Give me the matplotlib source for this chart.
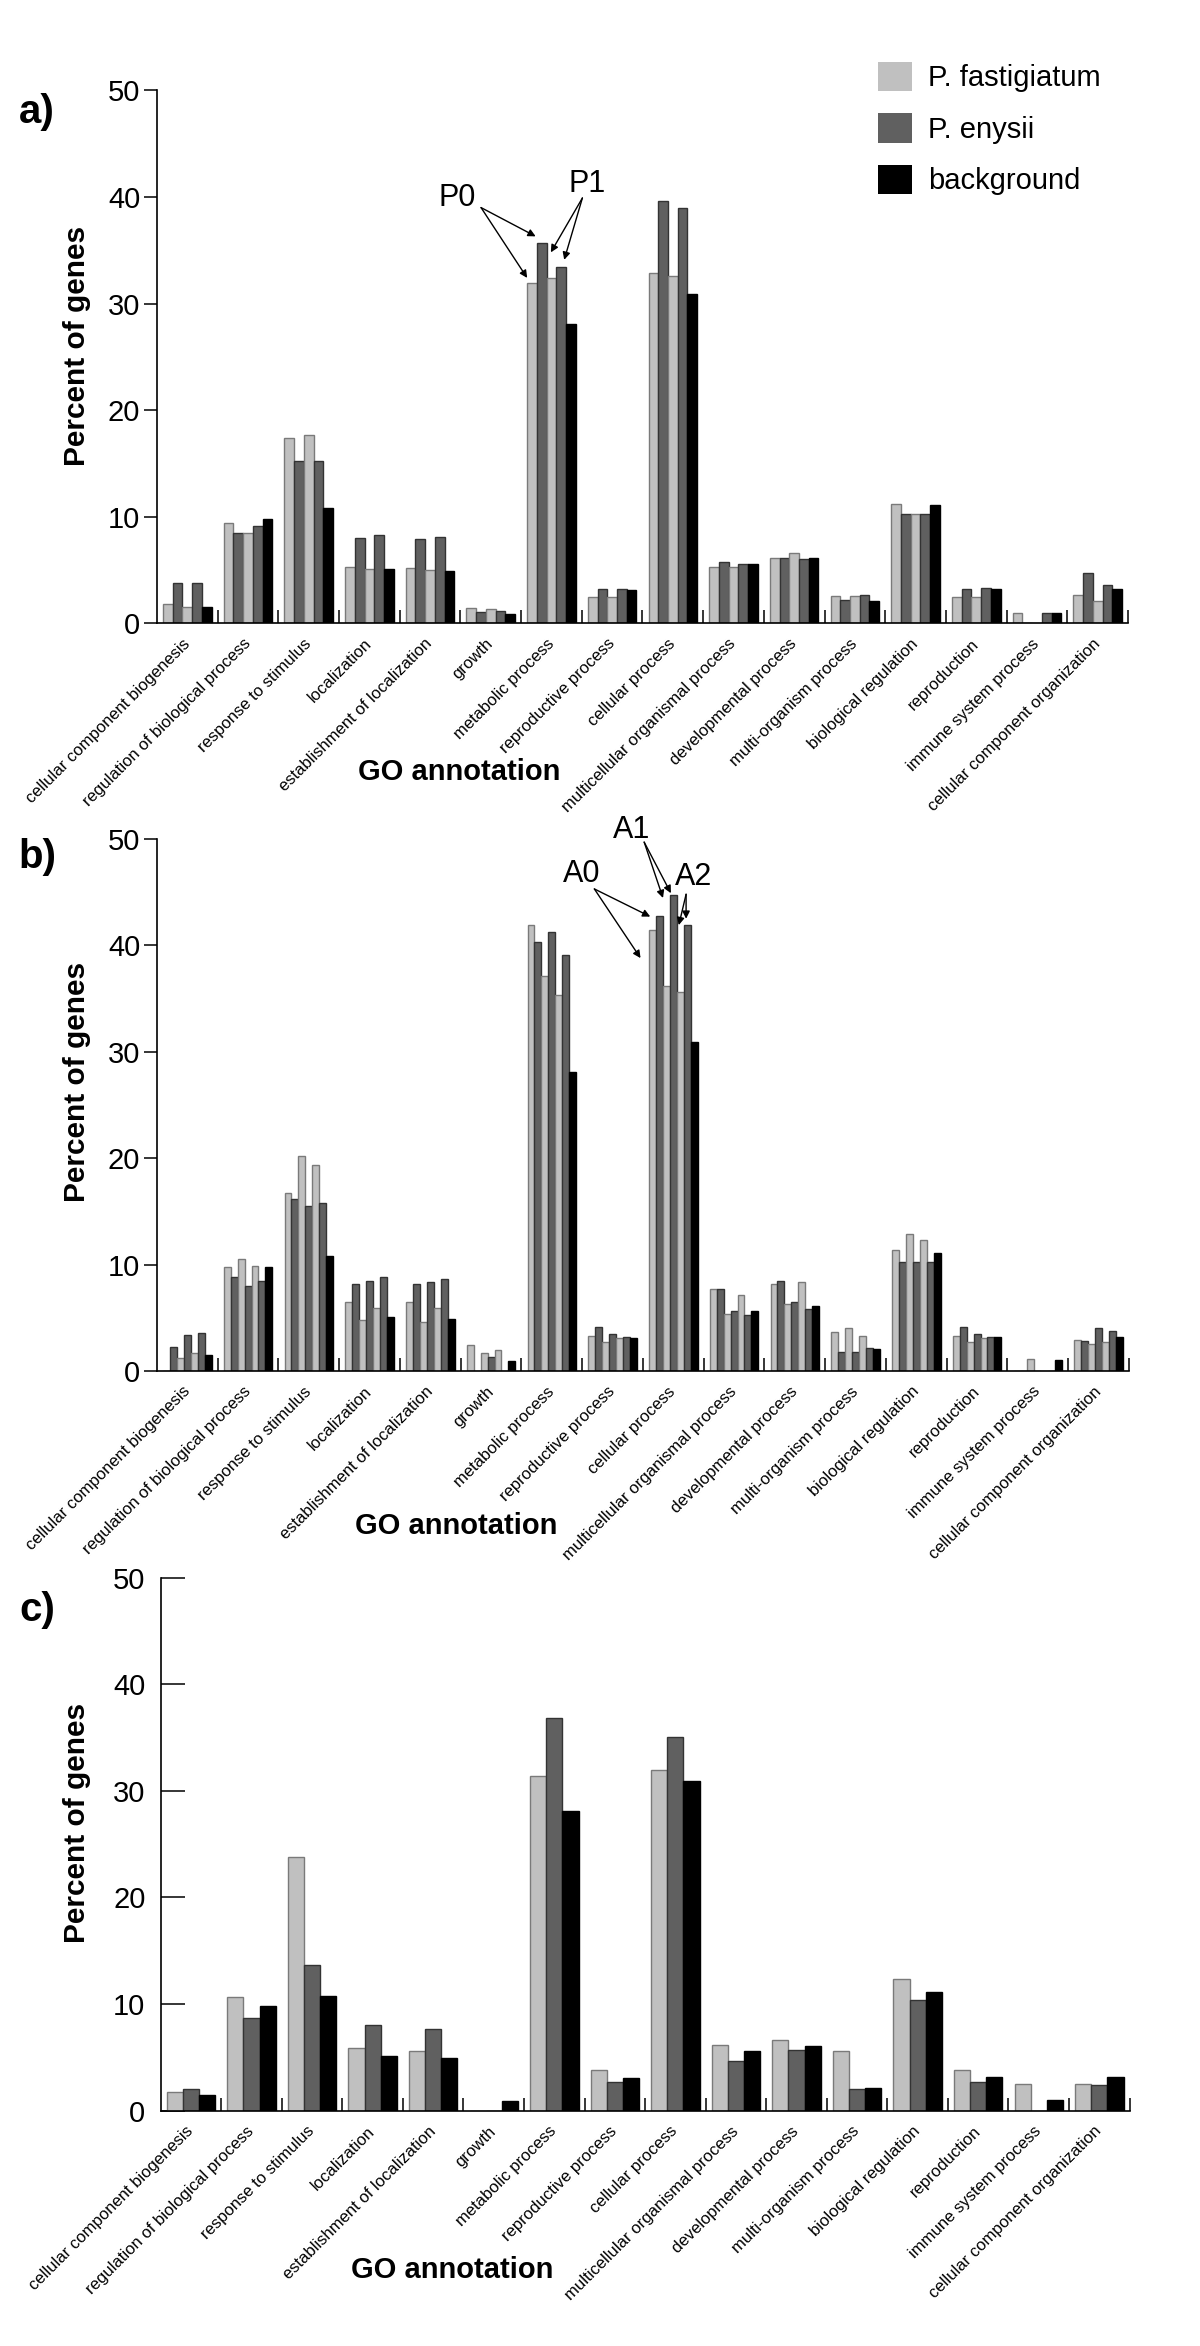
import numpy as np
import matplotlib
matplotlib.use('Agg')
import matplotlib.pyplot as plt
from matplotlib.patches import Patch

plt.rcParams['font.family'] = ['Liberation Sans', 'DejaVu Sans']

# GO categories
categories = ['cellular component biogenesis', 'regulation of biological process',
              'response to stimulus', 'localization', 'establishment of localization',
              'growth', 'metabolic process', 'reproductive process', 'cellular process',
              'multicellular organismal process', 'developmental process',
              'multi-organism process', 'biological regulation', 'reproduction',
              'immune system process', 'cellular component organization']

background = [1.5, 9.8, 10.8, 5.1, 4.9, 0.9, 28.1, 3.1, 30.9, 5.6, 6.1, 2.1, 11.1, 3.2, 1.0, 3.2]

# a) P0 / P1
p0_fast = [1.8, 9.4, 17.4, 5.3, 5.2, 1.4, 31.9, 2.5, 32.9, 5.3, 6.1, 2.6, 11.2, 2.5, 1.0, 2.7]
p0_eny = [3.8, 8.5, 15.2, 8.0, 7.9, 1.1, 35.7, 3.2, 39.6, 5.8, 6.1, 2.2, 10.3, 3.2, 0.0, 4.7]
p1_fast = [1.5, 8.5, 17.7, 5.1, 5.0, 1.3, 32.4, 2.5, 32.6, 5.3, 6.6, 2.6, 10.3, 2.5, 0.0, 2.1]
p1_eny = [3.8, 9.1, 15.2, 8.3, 8.1, 1.2, 33.4, 3.2, 39.0, 5.6, 6.0, 2.7, 10.3, 3.3, 1.0, 3.6]

# b) A0 / A1 / A2
a0_fast = [0.0, 9.8, 16.7, 6.5, 6.5, 2.4, 41.9, 3.3, 41.4, 7.7, 8.2, 3.7, 11.4, 3.3, 0.0, 2.9]
a0_eny = [2.3, 8.8, 16.2, 8.2, 8.2, 0.0, 40.3, 4.1, 42.8, 7.7, 8.5, 1.8, 10.2, 4.1, 0.0, 2.8]
a1_fast = [1.2, 10.5, 20.2, 4.8, 4.6, 1.7, 37.1, 2.7, 36.2, 5.4, 6.3, 4.0, 12.9, 2.7, 1.1, 2.5]
a1_eny = [3.4, 8.0, 15.5, 8.5, 8.4, 1.3, 41.3, 3.5, 44.7, 5.6, 6.5, 1.8, 10.2, 3.5, 0.0, 4.0]
a2_fast = [1.7, 9.9, 19.4, 5.9, 5.9, 2.0, 35.3, 3.1, 35.6, 7.1, 8.4, 3.3, 12.3, 3.1, 0.0, 2.7]
a2_eny = [3.6, 8.5, 15.8, 8.8, 8.6, 0.0, 39.1, 3.2, 41.9, 5.3, 5.8, 2.2, 10.2, 3.2, 0.0, 3.8]

# c) pooled
c_fast = [1.8, 10.7, 23.8, 5.9, 5.6, 0.0, 31.4, 3.8, 32.0, 6.2, 6.6, 5.6, 12.4, 3.8, 2.5, 2.5]
c_eny = [2.0, 8.7, 13.7, 8.0, 7.7, 0.0, 36.8, 2.7, 35.1, 4.7, 5.7, 2.05, 10.4, 2.7, 0.0, 2.4]

legend_labels = ['P. fastigiatum', 'P. enysii', 'background']

LIGHT = ('#c0c0c0', '#7a7a7a')
DARK = ('#606060', '#333333')
BLACK = ('#000000', '#000000')


def draw_panel(ax, series, styles, inward=False):
    n = len(series)
    w = 0.8 / n
    x = np.arange(len(categories))
    for k, (vals, st) in enumerate(zip(series, styles)):
        ax.bar(x - 0.4 + w * (k + 0.5), vals, width=w, color=st[0],
               edgecolor=st[1], linewidth=1.0, zorder=2)
    ax.set_xlim(-0.5, len(categories) - 0.5)
    ax.set_ylim(0, 50)
    for s in ['top', 'right']:
        ax.spines[s].set_visible(False)
    for s in ['left', 'bottom']:
        ax.spines[s].set_linewidth(1.2)
    ax.set_yticks([0, 10, 20, 30, 40, 50])
    if inward:
        ax.tick_params(axis='y', direction='in', length=17, width=1.1, pad=11, labelsize=21)
    else:
        ax.tick_params(axis='y', direction='out', length=9.5, width=1.1, pad=2.5, labelsize=21)
    ax.set_xticks(x)
    ax.set_xticklabels(categories, rotation=45, ha='right', va='center',
                       rotation_mode='anchor', fontsize=12)
    ax.tick_params(axis='x', which='major', length=0, pad=13)
    ax.set_xticks(np.arange(0.5, len(categories), 1.0), minor=True)
    ax.tick_params(axis='x', which='minor', direction='in', length=9.5, width=1.1)


fig = plt.figure(figsize=(12, 23.46), dpi=100)

ax_a = fig.add_axes([0.1308, 0.7343, 0.8092, 0.2272])
ax_b = fig.add_axes([0.1308, 0.4156, 0.8100, 0.2268])
ax_c = fig.add_axes([0.1339, 0.1003, 0.8074, 0.2272])

draw_panel(ax_a, [p0_fast, p0_eny, p1_fast, p1_eny, background],
           [LIGHT, DARK, LIGHT, DARK, BLACK])
draw_panel(ax_b, [a0_fast, a0_eny, a1_fast, a1_eny, a2_fast, a2_eny, background],
           [LIGHT, DARK, LIGHT, DARK, LIGHT, DARK, BLACK])
draw_panel(ax_c, [c_fast, c_eny, background], [LIGHT, DARK, BLACK], inward=True)

arrow = dict(arrowstyle='-|>', lw=1.0, color='black', mutation_scale=11,
             shrinkA=0, shrinkB=0)

# a) arrows
ax_a.text(4.45, 39.9, 'P0', fontsize=22, ha='center', va='center')
for end in [(5.74, 36.3), (5.60, 32.4)]:
    ax_a.annotate('', xy=end, xytext=(4.84, 39.0), arrowprops=arrow)
ax_a.text(6.59, 41.2, 'P1', fontsize=22, ha='center', va='center')
for end in [(5.99, 34.8), (6.21, 34.1)]:
    ax_a.annotate('', xy=end, xytext=(6.51, 39.9), arrowprops=arrow)

# b) arrows
ax_b.text(6.49, 46.7, 'A0', fontsize=22, ha='center', va='center')
for end in [(7.62, 42.7), (7.46, 38.8)]:
    ax_b.annotate('', xy=end, xytext=(6.70, 45.3), arrowprops=arrow)
ax_b.text(7.31, 50.8, 'A1', fontsize=22, ha='center', va='center', clip_on=False)
for end in [(7.83, 44.45), (7.96, 44.9)]:
    ax_b.annotate('', xy=end, xytext=(7.52, 49.7), arrowprops=arrow, annotation_clip=False)
ax_b.text(8.33, 46.4, 'A2', fontsize=22, ha='center', va='center')
for end in [(8.09, 41.9), (8.21, 42.5)]:
    ax_b.annotate('', xy=end, xytext=(8.21, 44.8), arrowprops=arrow)

# legend
handles = [Patch(facecolor=c[0], edgecolor='none') for c in (LIGHT, DARK, BLACK)]
fig.legend(handles, legend_labels, loc='upper left',
           bbox_to_anchor=(878 / 1200, 1 - 62 / 2346), bbox_transform=fig.transFigure,
           frameon=False, fontsize=21, handlelength=1.16, handleheight=1.16,
           labelspacing=0.72, handletextpad=0.55, borderpad=0, borderaxespad=0)

# panel letters, axis titles
W, H = 1200.0, 2346.0
for lab, ypx in [('a)', 112), ('b)', 857), ('c)', 1610)]:
    fig.text(37 / W, 1 - ypx / H, lab, fontsize=29, fontweight='bold', ha='center', va='center')
for ypx in [346, 1082, 1823]:
    fig.text(77 / W, 1 - ypx / H, 'Percent of genes', fontsize=21.5, fontweight='bold',
             rotation=90, ha='center', va='center')
for xpx, ypx in [(459, 772), (456, 1526), (452, 2270)]:
    fig.text(xpx / W, 1 - ypx / H, 'GO annotation', fontsize=21, fontweight='bold',
             ha='center', va='center')

fig.savefig('out.png', dpi=100)
